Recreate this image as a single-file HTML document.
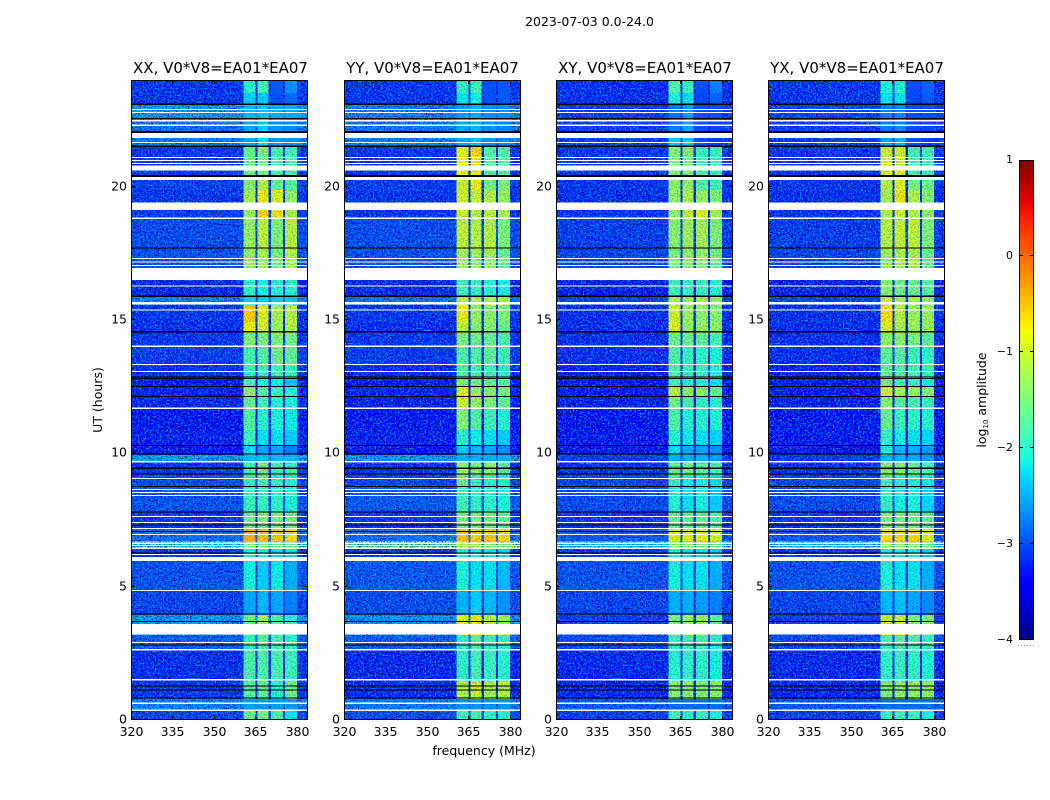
<!DOCTYPE html>
<html lang="en">
<head>
<meta charset="utf-8">
<title>2023-07-03 0.0-24.0 dynamic spectra</title>
<style>
html,body{margin:0;padding:0;background:#fff;}
svg{display:block;}
text{font-family:"DejaVu Sans","Liberation Sans",sans-serif;fill:#000;}
</style>
</head>
<body>
<svg id="chart" width="1050" height="800" viewBox="0 0 1050 800" xmlns="http://www.w3.org/2000/svg" shape-rendering="crispEdges">
<defs>
<linearGradient id="jet-gradient" x1="0" y1="1" x2="0" y2="0"></linearGradient>
<filter id="noise-light" x="0" y="0" width="100%" height="100%" color-interpolation-filters="sRGB">
<feTurbulence type="fractalNoise" baseFrequency="0.6" numOctaves="2" seed="4"/>
<feColorMatrix type="matrix" values="0 0 0 0 0  0 0 0 0 0.68  0 0 0 0 1  6 0 0 0 -3.1"/>
</filter>
<filter id="noise-dark" x="0" y="0" width="100%" height="100%" color-interpolation-filters="sRGB">
<feTurbulence type="fractalNoise" baseFrequency="0.62" numOctaves="2" seed="11"/>
<feColorMatrix type="matrix" values="0 0 0 0 0  0 0 0 0 0  0 0 0 0 0.65  6 0 0 0 -2.8"/>
</filter>
</defs>
<text x="589.5" y="26" font-size="12.5" text-anchor="middle">2023-07-03 0.0-24.0</text>
<text x="484" y="755" font-size="12.5" text-anchor="middle">frequency (MHz)</text>
<text transform="translate(102,400) rotate(-90)" font-size="12.5" text-anchor="middle">UT (hours)</text>
<text transform="translate(986,400) rotate(-90)" font-size="12.5" text-anchor="middle">log<tspan font-size="7" dy="2">10</tspan><tspan dy="-2"> amplitude</tspan></text>
<g id="panels"></g>
<g id="colorbar"></g>
</svg>
<script>
/* ---- data ---- */
const panelTitles = ["XX, V0*V8=EA01*EA07", "YY, V0*V8=EA01*EA07", "XY, V0*V8=EA01*EA07", "YX, V0*V8=EA01*EA07"];
const freqTicks = [320, 335, 350, 365, 380];
const utTicks = [0, 5, 10, 15, 20];
const colorTicks = [1, 0, -1, -2, -3, -4];
const colorTickLabels = ["1", "0", "\u22121", "\u22122", "\u22123", "\u22124"];

/* spectral-window edges, MHz */
const windowStart = [360.6, 365.7, 370.7, 375.7];
const windowEnd = [365.0, 369.8, 375.0, 380.0];

/* time-row edges, UT hours, top to bottom */
const utEdges = [24,23.51,23.1,22.58,22.01,21.49,20.63,20.25,19.88,19.13,18.79,17.66,16.5,15.86,15.56,14.93,14.51,13.99,13.28,12.83,12.49,12.11,11.66,10.88,10.28,9.94,9.71,9.19,8.74,7.8,7.2,6.71,6.41,5.96,4.84,3.94,3.64,3.19,2.63,1.46,0.79,0.34,0];

/* log10 amplitude per time row: [background, window1, window2, window3, window4] */
const xxRows = [
[-3.15,-1.95,-1.8,-2.9,-2.6],[-3.15,-2.3,-2.3,-2.95,-2.8],[-2.45,-2.4,-2.35,-2.45,-2.45],[-2.7,-2.5,-2.3,-2.6,-2.65],[-2.65,-2.5,-2.2,-2.55,-2.6],
[-3.15,-1.6,-1.45,-1.75,-1.8],[-3.1,-1.55,-1.5,-1.8,-1.8],[-3.05,-1.4,-1.1,-1.6,-1.7],[-3.15,-1.2,-0.75,-0.9,-1.35],[-3.1,-1.25,-0.65,-0.7,-1.2],
[-3.0,-1.3,-1.05,-1.45,-1.1],[-2.95,-1.3,-1.2,-1.5,-1.1],[-3.25,-1.95,-2.1,-2.0,-2.0],[-2.6,-2.3,-2.3,-2.3,-2.3],[-3.15,-0.6,-0.85,-1.2,-1.1],
[-3.2,-0.8,-0.9,-1.25,-1.1],[-3.15,-1.45,-1.45,-1.45,-1.55],[-3.1,-1.8,-1.7,-1.55,-1.65],[-3.2,-1.9,-1.8,-1.8,-1.9],[-3.35,-1.75,-2.0,-2.1,-2.35],
[-3.3,-1.35,-1.7,-1.9,-1.95],[-3.25,-1.6,-1.85,-2.0,-2.1],[-3.35,-1.75,-2.0,-2.05,-2.15],[-3.3,-1.9,-2.2,-2.2,-2.3],[-3.35,-2.2,-2.5,-2.5,-2.7],
[-2.4,-2.4,-2.4,-2.4,-2.4],[-3.15,-1.8,-1.5,-1.8,-1.9],[-3.0,-1.95,-1.8,-1.95,-2.0],[-2.95,-1.9,-1.9,-1.95,-2.05],[-3.15,-1.55,-1.45,-1.5,-1.55],
[-2.75,-0.45,-0.55,-0.6,-0.7],[-2.05,-1.5,-1.5,-1.6,-1.6],[-3.15,-2.1,-2.1,-2.2,-2.2],[-2.95,-2.1,-2.3,-2.15,-2.45],[-3.05,-2.5,-2.4,-2.5,-2.7],
[-2.45,-1.5,-1.1,-1.7,-1.9],[-2.45,-1.5,-1.1,-1.7,-1.9],[-2.85,-1.9,-1.7,-1.8,-2.0],[-3.2,-1.8,-1.75,-1.8,-1.9],[-3.15,-1.7,-1.6,-2.0,-1.55],
[-2.6,-2.55,-2.55,-2.55,-2.55],[-3.05,-1.6,-1.5,-1.75,-2.2]
];
const yyRows = [
[-3.15,-1.9,-1.8,-2.95,-2.9],[-3.15,-2.2,-2.1,-2.95,-2.9],[-2.6,-2.55,-2.45,-2.6,-2.6],[-2.65,-2.5,-2.4,-2.6,-2.65],[-2.6,-2.5,-2.35,-2.6,-2.65],
[-3.15,-0.8,-0.65,-1.7,-1.75],[-3.15,-0.85,-0.75,-1.7,-1.7],[-3.1,-1.0,-0.75,-1.5,-1.45],[-3.15,-0.95,-1.0,-1.1,-1.3],[-3.15,-0.95,-1.1,-1.05,-1.2],
[-3.0,-1.05,-1.1,-1.1,-1.45],[-2.95,-1.2,-1.2,-1.2,-1.6],[-3.25,-1.85,-1.9,-2.0,-2.1],[-2.7,-1.0,-1.1,-1.1,-1.2],[-3.15,-0.8,-1.3,-1.35,-1.45],
[-3.2,-1.0,-1.4,-1.4,-1.55],[-3.15,-1.5,-1.55,-1.6,-1.75],[-3.1,-1.75,-1.75,-1.65,-1.85],[-3.25,-1.7,-1.8,-1.8,-2.0],[-3.35,-1.5,-1.55,-1.65,-1.65],
[-3.3,-0.9,-1.3,-1.4,-1.5],[-3.3,-0.95,-1.3,-1.45,-1.6],[-3.35,-1.45,-1.7,-1.85,-2.0],[-3.3,-2.0,-2.15,-2.2,-2.3],[-3.35,-2.3,-2.4,-2.5,-2.6],
[-2.45,-2.45,-2.45,-2.45,-2.45],[-3.2,-1.3,-1.4,-1.35,-1.7],[-3.05,-1.6,-1.9,-1.95,-2.1],[-2.9,-1.85,-1.95,-1.95,-2.05],[-3.15,-1.55,-1.5,-1.5,-1.65],
[-2.7,-0.55,-0.6,-0.55,-0.65],[-1.4,-1.2,-1.3,-1.4,-1.5],[-3.15,-2.05,-2.1,-2.15,-2.25],[-2.9,-2.05,-2.2,-2.2,-2.4],[-3.0,-2.45,-2.3,-2.4,-2.6],
[-2.5,-0.85,-0.75,-1.1,-1.2],[-2.5,-0.85,-0.75,-1.1,-1.2],[-2.85,-1.95,-1.7,-1.9,-1.95],[-3.25,-1.95,-1.85,-1.9,-2.0],[-3.2,-1.15,-1.0,-1.2,-1.1],
[-2.65,-2.6,-2.6,-2.6,-2.6],[-3.0,-1.9,-1.8,-1.95,-2.0]
];
const xyRows = [
[-3.2,-1.75,-1.9,-2.95,-2.7],[-3.2,-2.05,-2.2,-3.0,-2.85],[-3.1,-2.75,-2.55,-2.95,-2.95],[-3.05,-2.7,-2.5,-2.95,-3.0],[-3.1,-2.3,-2.3,-2.95,-3.05],
[-3.15,-1.4,-1.4,-1.9,-1.9],[-3.15,-1.4,-1.45,-1.8,-1.9],[-3.15,-1.35,-1.3,-1.7,-1.85],[-3.2,-1.35,-1.15,-1.3,-1.45],[-3.15,-1.3,-1.0,-0.85,-1.2],
[-3.1,-1.4,-1.25,-1.2,-1.45],[-3.05,-1.5,-1.35,-1.35,-1.55],[-3.3,-1.85,-1.9,-1.9,-2.0],[-3.05,-1.1,-1.2,-1.2,-1.4],[-3.2,-0.95,-1.25,-1.35,-1.4],
[-3.2,-0.85,-1.3,-1.3,-1.35],[-3.2,-1.55,-1.6,-1.65,-1.8],[-3.2,-1.75,-1.9,-1.95,-2.05],[-3.3,-1.75,-1.85,-1.85,-1.95],[-3.4,-1.85,-2.05,-2.0,-2.2],
[-3.35,-1.1,-1.35,-1.4,-1.6],[-3.3,-1.55,-1.8,-1.95,-2.0],[-3.35,-1.75,-2.0,-2.0,-2.05],[-3.35,-2.0,-2.15,-2.2,-2.25],[-3.35,-2.2,-2.45,-2.5,-2.6],
[-3.1,-2.45,-2.45,-2.45,-2.55],[-3.2,-1.6,-1.5,-1.65,-1.8],[-3.05,-1.9,-2.1,-2.1,-2.2],[-3.0,-2.0,-2.2,-2.1,-2.3],[-3.15,-1.6,-1.65,-1.6,-1.75],
[-2.9,-0.9,-0.85,-0.8,-0.95],[-2.25,-1.4,-1.4,-1.5,-1.6],[-3.15,-2.1,-2.2,-2.2,-2.35],[-2.95,-2.1,-2.2,-2.2,-2.45],[-3.05,-2.45,-2.45,-2.55,-2.7],
[-3.1,-1.4,-1.25,-1.2,-1.6],[-3.1,-1.4,-1.25,-1.2,-1.6],[-3.0,-1.9,-1.8,-1.8,-2.0],[-3.25,-2.0,-1.95,-1.95,-2.1],[-3.25,-1.4,-1.4,-1.45,-1.4],
[-2.9,-2.8,-2.8,-2.8,-2.8],[-3.1,-1.9,-1.95,-1.9,-2.1]
];
const yxRows = [
[-3.15,-2.05,-2.0,-2.95,-2.85],[-3.15,-2.2,-2.2,-3.0,-2.9],[-3.05,-2.7,-2.65,-2.95,-2.95],[-3.05,-2.7,-2.65,-2.95,-3.0],[-3.1,-2.5,-2.4,-2.95,-3.05],
[-3.15,-0.95,-1.0,-1.85,-1.85],[-3.15,-0.9,-0.8,-1.8,-1.85],[-3.15,-1.1,-0.85,-1.5,-1.55],[-3.2,-1.2,-0.75,-1.15,-1.4],[-3.15,-1.1,-0.95,-1.1,-1.35],
[-3.1,-1.1,-1.0,-1.05,-1.45],[-3.05,-1.25,-1.15,-1.2,-1.6],[-3.3,-1.4,-1.55,-1.6,-1.7],[-3.05,-0.95,-1.15,-1.2,-1.3],[-3.2,-0.7,-1.1,-1.25,-1.25],
[-3.2,-0.85,-1.15,-1.25,-1.3],[-3.2,-1.35,-1.35,-1.5,-1.65],[-3.2,-1.65,-1.7,-1.85,-1.95],[-3.3,-1.6,-1.7,-1.8,-1.9],[-3.4,-1.45,-1.85,-1.9,-2.15],
[-3.35,-1.0,-1.2,-1.3,-1.4],[-3.3,-1.4,-1.7,-1.8,-1.9],[-3.35,-1.6,-1.85,-1.95,-2.0],[-3.35,-1.9,-2.1,-2.2,-2.25],[-3.35,-2.05,-2.4,-2.45,-2.55],
[-3.1,-2.4,-2.45,-2.45,-2.55],[-3.2,-1.35,-1.35,-1.65,-1.8],[-3.05,-1.8,-2.0,-2.05,-2.15],[-3.0,-1.95,-2.1,-2.1,-2.25],[-3.15,-1.5,-1.5,-1.55,-1.7],
[-2.9,-0.7,-0.7,-0.65,-0.8],[-2.25,-1.3,-1.3,-1.4,-1.55],[-3.15,-2.0,-2.1,-2.1,-2.3],[-2.95,-2.05,-2.2,-2.2,-2.45],[-3.05,-2.4,-2.35,-2.5,-2.65],
[-3.1,-1.05,-0.95,-1.35,-1.45],[-3.1,-1.05,-0.95,-1.35,-1.45],[-3.0,-1.85,-1.75,-1.8,-1.95],[-3.25,-1.95,-1.9,-1.95,-2.05],[-3.25,-1.45,-1.35,-1.35,-1.35],
[-2.9,-2.8,-2.8,-2.8,-2.8],[-3.1,-1.9,-1.85,-1.9,-2.1]
];
const panelRows = [xxRows, yyRows, xyRows, yxRows];

/* flagged (white) time ranges, UT hours */
const gapStart = [22.91,22.8,22.5,22.33,22.02,21.68,21.11,21.0,20.89,20.79,20.36,19.4,18.85,17.33,17.2,17.07,16.95,16.29,15.68,15.39,14.04,13.35,13.09,11.72,9.72,9.08,8.66,8.55,8.44,7.65,7.43,7.2,6.98,6.65,6.56,6.47,6.23,6.12,4.88,3.6,2.93,2.66,1.54,0.65,0.39];
const gapEnd = [22.87,22.76,22.44,22.28,21.83,21.64,21.07,20.96,20.85,20.6,20.25,19.13,18.79,17.29,17.16,17.03,16.5,16.25,15.58,15.35,13.99,13.31,13.05,11.66,9.65,9.04,8.62,8.51,8.4,7.61,7.39,7.16,6.94,6.6,6.53,6.41,6.19,5.96,4.84,3.2,2.89,2.61,1.48,0.6,0.34];

/* zero-amplitude (black) time ranges, UT hours */
const maskStart = [23.11,22.58,22.09,21.54,20.43,17.72,15.92,14.58,12.88,12.83,12.53,12.15,10.31,10.0,9.47,9.25,8.78,7.82,7.33,7.09,6.28,3.99,3.72,2.84,1.3,1.15,0.85];
const maskEnd = [23.07,22.54,22.02,21.49,20.36,17.68,15.86,14.53,12.84,12.79,12.49,12.11,10.27,9.96,9.41,9.21,8.74,7.78,7.29,7.06,6.24,3.95,3.68,2.8,1.26,1.11,0.81];

/* ---- helpers ---- */
const SVG_NS = "http://www.w3.org/2000/svg";
const FREQ_MIN = 320, FREQ_MAX = 384, UT_MIN = 0, UT_MAX = 24;
const panelLeft = [131, 344, 556, 768];
const titleCentre = [220.5, 432.5, 645, 857];
const panelWidth = 177, panelTop = 80, panelHeight = 640;

function xScale(freq, left) { return left + (freq - FREQ_MIN) / (FREQ_MAX - FREQ_MIN) * panelWidth; }
function yScale(ut) { return panelTop + panelHeight - (ut - UT_MIN) / (UT_MAX - UT_MIN) * panelHeight; }

function ramp(t, pts) {
  for (let i = 1; i < pts.length; i++) {
    if (t <= pts[i][0]) {
      const a = pts[i - 1], b = pts[i];
      return a[1] + (b[1] - a[1]) * (t - a[0]) / (b[0] - a[0]);
    }
  }
  return pts[pts.length - 1][1];
}
function jet(v) {
  const t = Math.max(0, Math.min(1, (v + 4) / 5));
  const r = ramp(t, [[0, 0], [0.35, 0], [0.66, 1], [0.89, 1], [1, 0.5]]);
  const g = ramp(t, [[0, 0], [0.125, 0], [0.375, 1], [0.64, 1], [0.91, 0], [1, 0]]);
  const b = ramp(t, [[0, 0.5], [0.11, 1], [0.34, 1], [0.65, 0], [1, 0]]);
  return "rgb(" + Math.round(r * 255) + "," + Math.round(g * 255) + "," + Math.round(b * 255) + ")";
}
function make(parent, tag, attrs) {
  const el = document.createElementNS(SVG_NS, tag);
  for (const k in attrs) el.setAttribute(k, attrs[k]);
  parent.appendChild(el);
  return el;
}

/* ---- panels ---- */
const panelsGroup = document.getElementById("panels");
panelTitles.forEach(function (title, p) {
  const left = panelLeft[p];
  const rows = panelRows[p];
  const g = make(panelsGroup, "g", {});
  
  

  /* background rows */
  rows.forEach(function (row, i) {
    const y0 = yScale(utEdges[i]);
    const y1 = yScale(utEdges[i + 1]);
    const bg = make(g, "rect", { x: left, y: y0, width: panelWidth, height: y1 - y0, fill: jet(row[0]) });
    
    
  });

  /* speckle on the background */
  const n1 = make(g, "rect", { x: left, y: panelTop, width: panelWidth, height: panelHeight, filter: "url(#noise-dark)", opacity: 0.85 });
  
  
  const n2 = make(g, "rect", { x: left, y: panelTop, width: panelWidth, height: panelHeight, filter: "url(#noise-light)", opacity: 0.85 });
  
  

  /* the four spectral windows */
  rows.forEach(function (row, i) {
    const y0 = yScale(utEdges[i]);
    const y1 = yScale(utEdges[i + 1]);
    windowStart.forEach(function (f0, w) {
      const x0 = xScale(f0, left);
      const x1 = xScale(windowEnd[w], left);
      const cell = make(g, "rect", { x: x0, y: y0, width: x1 - x0, height: y1 - y0, fill: jet(row[w + 1]) });
      
      
    });
  });

  /* light speckle on the windows */
  const n3 = make(g, "rect", { x: xScale(windowStart[0], left), y: panelTop, width: xScale(windowEnd[3], left) - xScale(windowStart[0], left), height: panelHeight, filter: "url(#noise-dark)", opacity: 0.22 });
  
  

  /* flagged gaps and masked lines */
  gapStart.forEach(function (ut, i) {
    const y0 = yScale(ut);
    const gap = make(g, "rect", { x: left, y: y0, width: panelWidth, height: Math.max(1, yScale(gapEnd[i]) - y0), fill: "#fff" });
    
    
  });
  maskStart.forEach(function (ut, i) {
    const y0 = yScale(ut);
    const line = make(g, "rect", { x: left, y: y0, width: panelWidth, height: Math.max(1, yScale(maskEnd[i]) - y0), fill: "#000" });
    
    
  });

  /* frame */
  const frame = make(g, "rect", { x: left + 0.5, y: panelTop + 0.5, width: panelWidth - 1, height: panelHeight - 1, fill: "none", stroke: "#000", "stroke-width": 1 });
  
  

  /* title */
  const t = make(g, "text", { x: titleCentre[p], y: 73, "font-size": 15, "text-anchor": "middle" });
  t.textContent = title;
  
  

  /* x ticks */
  freqTicks.forEach(function (f) {
    const x = Math.round(xScale(f, left)) + 0.5;
    const tb = make(g, "line", { x1: x, x2: x, y1: panelTop + panelHeight, y2: panelTop + panelHeight - 4, stroke: "#000" });
    
    
    const tt = make(g, "line", { x1: x, x2: x, y1: panelTop, y2: panelTop + 4, stroke: "#000" });
    
    
    const lab = make(g, "text", { x: x, y: 736, "font-size": 12.5, "text-anchor": "middle" });
    lab.textContent = String(f);
    
    
  });

  /* y ticks */
  utTicks.forEach(function (u) {
    const y = Math.round(yScale(u)) - 0.5;
    const tl = make(g, "line", { x1: left, x2: left + 4, y1: y, y2: y, stroke: "#000" });
    
    
    const tr = make(g, "line", { x1: left + panelWidth - 4, x2: left + panelWidth, y1: y, y2: y, stroke: "#000" });
    
    
    const lab = make(g, "text", { x: left - 4, y: y + 4, "font-size": 12.5, "text-anchor": "end" });
    lab.textContent = String(u);
    
    
  });
});

/* ---- colorbar ---- */
const CB_LEFT = 1019, CB_WIDTH = 15, CB_TOP = 160, CB_HEIGHT = 480, CB_MIN = -4, CB_MAX = 1;
function cbScale(v) { return CB_TOP + CB_HEIGHT - (v - CB_MIN) / (CB_MAX - CB_MIN) * CB_HEIGHT; }

const grad = document.getElementById("jet-gradient");
for (let s = 0; s <= 50; s++) {
  make(grad, "stop", { offset: (s * 2) + "%", "stop-color": jet(CB_MIN + (CB_MAX - CB_MIN) * s / 50) });
}
const cb = document.getElementById("colorbar");
const cbFill = make(cb, "rect", { x: CB_LEFT, y: CB_TOP, width: CB_WIDTH, height: CB_HEIGHT, fill: "url(#jet-gradient)" });


const cbFrame = make(cb, "rect", { x: CB_LEFT + 0.5, y: CB_TOP + 0.5, width: CB_WIDTH - 1, height: CB_HEIGHT - 1, fill: "none", stroke: "#000" });



colorTicks.forEach(function (v, i) {
  const y = Math.round(cbScale(v)) - (i === 0 ? -0.5 : 0.5);
  const a = make(cb, "line", { x1: CB_LEFT, x2: CB_LEFT + 4, y1: y, y2: y, stroke: "#000" });
  
  
  const b = make(cb, "line", { x1: CB_LEFT + CB_WIDTH - 4, x2: CB_LEFT + CB_WIDTH, y1: y, y2: y, stroke: "#000" });
  
  
  const lab = make(cb, "text", { x: 1013, y: Math.round(cbScale(v)) + 3, "font-size": 11, "text-anchor": "end" });
  lab.textContent = colorTickLabels[i];
  
  
});

const cbDots = make(cb, "line", { x1: 1018, x2: 1035, y1: 645.5, y2: 645.5, stroke: "#999", "stroke-dasharray": "1 2" });


</script>
</body>
</html>
